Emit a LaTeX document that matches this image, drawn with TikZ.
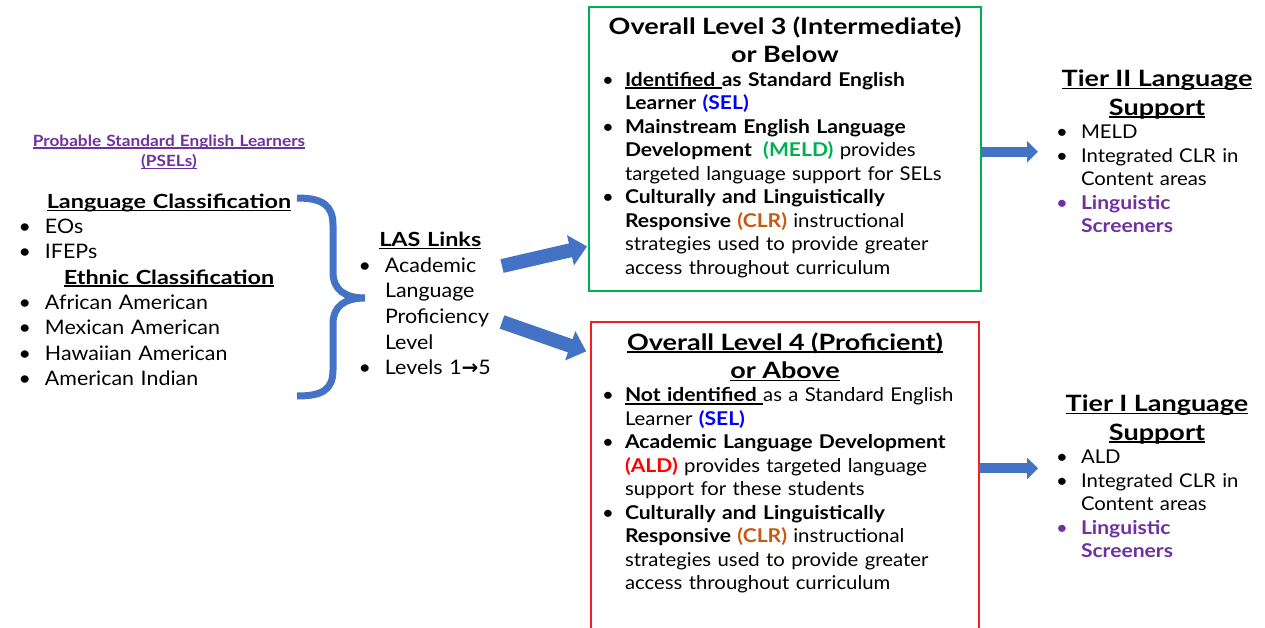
\documentclass[tikz,border=0pt]{standalone}
\usepackage{fontspec}
\setmainfont{Lato}[FakeStretch=1.07, BoldFeatures={FakeStretch=1.11}]
\newfontfamily\headf{Lato}[FakeStretch=1.2]
\newfontfamily\arrowf{DejaVu Sans}
\usetikzlibrary{arrows.meta}

\definecolor{arrowblue}{RGB}{68,114,196}
\definecolor{pselpurple}{RGB}{112,48,160}
\definecolor{boxgreen}{RGB}{0,176,80}
\definecolor{boxred}{RGB}{245,30,30}
\definecolor{selblue}{RGB}{0,0,255}
\definecolor{meldgreen}{RGB}{0,176,80}
\definecolor{clrorange}{RGB}{197,90,17}
\definecolor{aldred}{RGB}{255,0,0}

% underline sitting just under the baseline
\newcommand\undl[1]{\leavevmode\setbox0\hbox{#1}\rlap{\rule[-2.6pt]{\wd0}{1.4pt}}\box0}
% bullet item with hanging indent (break lines with \newline)
\newcommand\itm[2][23pt]{\par\hangindent=#1\hangafter=1\noindent\makebox[#1][l]{\textbullet}#2}

\begin{document}
\begin{tikzpicture}[x=1pt,y=-1pt]
\tikzstyle{head} = [text width=301pt, align=center, inner sep=0pt,
font=\fontsize{15.5}{20.7}\selectfont\bfseries, text=pselpurple]
\tikzstyle{list} = [inner sep=0pt, outer sep=0pt, anchor=base west]
\tikzstyle{lvlbox} = [line width=2pt, inner xsep=13pt, inner ysep=9.6pt, outer sep=0pt,
anchor=base west, text width=366pt, font=\fontsize{19}{23.5}\selectfont]
\tikzstyle{bigarrow} = [draw=arrowblue, line width=14pt, -{Triangle[length=17pt,width=30pt]}]
\tikzstyle{smallarrow} = [draw=arrowblue, line width=10pt, -{Triangle[length=11pt,width=21pt]}]
\tikzstyle{brace} = [draw=arrowblue, line width=7pt]

\useasboundingbox (0,0) rectangle (1265,627);

% left column
\node[head, anchor=base] (psel) at (169,146) {\undl{Probable Standard English Learners}\\\undl{(PSELs)}};
\node[list, text width=301pt, font=\fontsize{20}{25.3}\selectfont] (classes) at (18.5,208.3) {%
{\centering\headf\bfseries\fontsize{19.5}{25.3}\selectfont\undl{Language Classification}\par}
\itm[26.5pt]{EOs}
\itm[26.5pt]{IFEPs}
\par{\centering\headf\bfseries\fontsize{19.5}{25.3}\selectfont\undl{Ethnic Classification}\par}
\itm[26.5pt]{African American}
\itm[26.5pt]{Mexican American}
\itm[26.5pt]{Hawaiian American}
\itm[26.5pt]{American Indian}\par};

\draw[brace] (297,198) .. controls (322,198) and (333,205) .. (333,225) -- (333,272)
  .. controls (333,290) and (345,298) .. (365,298)
  .. controls (345,298) and (333,306) .. (333,324) -- (333,370)
  .. controls (333,390) and (322,396) .. (297,396);

% middle column
\node[list, text width=143.5pt, font=\fontsize{20}{25.6}\selectfont] (las) at (358.5,246.7) {%
{\centering\headf\bfseries\fontsize{19.5}{25.6}\selectfont\undl{LAS Links}\par}
\itm[26.5pt]{Academic\newline Language\newline Proficiency\newline Level}
\itm[26.5pt]{Levels 1{\arrowf\bfseries →}5}\par};

% level boxes
\node[lvlbox, draw=boxgreen] (lvl3) at (589,34.3) {%
{\centering\headf\bfseries\fontsize{22.5}{28.4}\selectfont\rule{0pt}{18pt}Overall Level 3 (Intermediate)\\or Below\par}
\itm{\textbf{\undl{Identified }as Standard English}\newline\textbf{Learner} \textbf{\color{selblue}(SEL)}}
\itm{\textbf{Mainstream English Language}\newline\textbf{Development}\hspace{0.6em}\textbf{\color{meldgreen}(MELD)} provides\newline targeted language support for SELs}
\itm{\textbf{Culturally and Linguistically}\newline\textbf{Responsive} \textbf{\color{clrorange}(CLR)} instructional\newline strategies used to provide greater\newline access throughout curriculum\rule[-7pt]{0pt}{7pt}}\par};

\node[lvlbox, draw=boxred, inner xsep=11pt] (lvl4) at (591,350) {%
{\centering\headf\bfseries\fontsize{22.5}{28.4}\selectfont\rule{0pt}{18pt}\undl{Overall Level 4 (Proficient)}\\\undl{or Above}\par}
\itm{\textbf{\undl{Not identified }}as a Standard English\newline Learner \textbf{\color{selblue}(SEL)}}
\itm{\textbf{Academic Language Development}\newline\textbf{\color{aldred}(ALD)} provides targeted language\newline support for these students}
\itm{\textbf{Culturally and Linguistically}\newline\textbf{Responsive} \textbf{\color{clrorange}(CLR)} instructional\newline strategies used to provide greater\newline access throughout curriculum\rule[-60pt]{0pt}{60pt}}\par};

% tiers
\node[list, text width=202pt, font=\fontsize{19}{23.5}\selectfont] (tier2) at (1056,86.7) {%
{\centering\headf\bfseries\fontsize{22.5}{28.4}\selectfont\undl{Tier II Language}\\\undl{Support}\par}
\itm[25pt]{MELD}
\itm[25pt]{Integrated CLR in\newline Content areas}
\par\color{pselpurple}\itm[25pt]{\textbf{Linguistic\newline Screeners}}\par};

\node[list, text width=202pt, font=\fontsize{19}{23.5}\selectfont] (tier1) at (1056,411.7) {%
{\centering\headf\bfseries\fontsize{22.5}{28.4}\selectfont\undl{Tier I Language}\\\undl{Support}\par}
\itm[25pt]{ALD}
\itm[25pt]{Integrated CLR in\newline Content areas}
\par\color{pselpurple}\itm[25pt]{\textbf{Linguistic\newline Screeners}}\par};

% arrows
\draw[bigarrow, shorten >=2pt] (las.east |- 0,266) -- (lvl3.west |- 0,246);
\draw[bigarrow, shorten >=5pt] (las.east |- 0,322) -- (lvl4.west |- 0,353);
\draw[smallarrow, shorten >=18pt] ([yshift=-3pt]lvl3.east) -- ([yshift=-3pt]lvl3.east -| tier2.west);
\draw[smallarrow, shorten >=18pt] ([yshift=-146pt]lvl4.north east) -- ([yshift=-146pt]lvl4.north east -| tier1.west);

\end{tikzpicture}
\end{document}
